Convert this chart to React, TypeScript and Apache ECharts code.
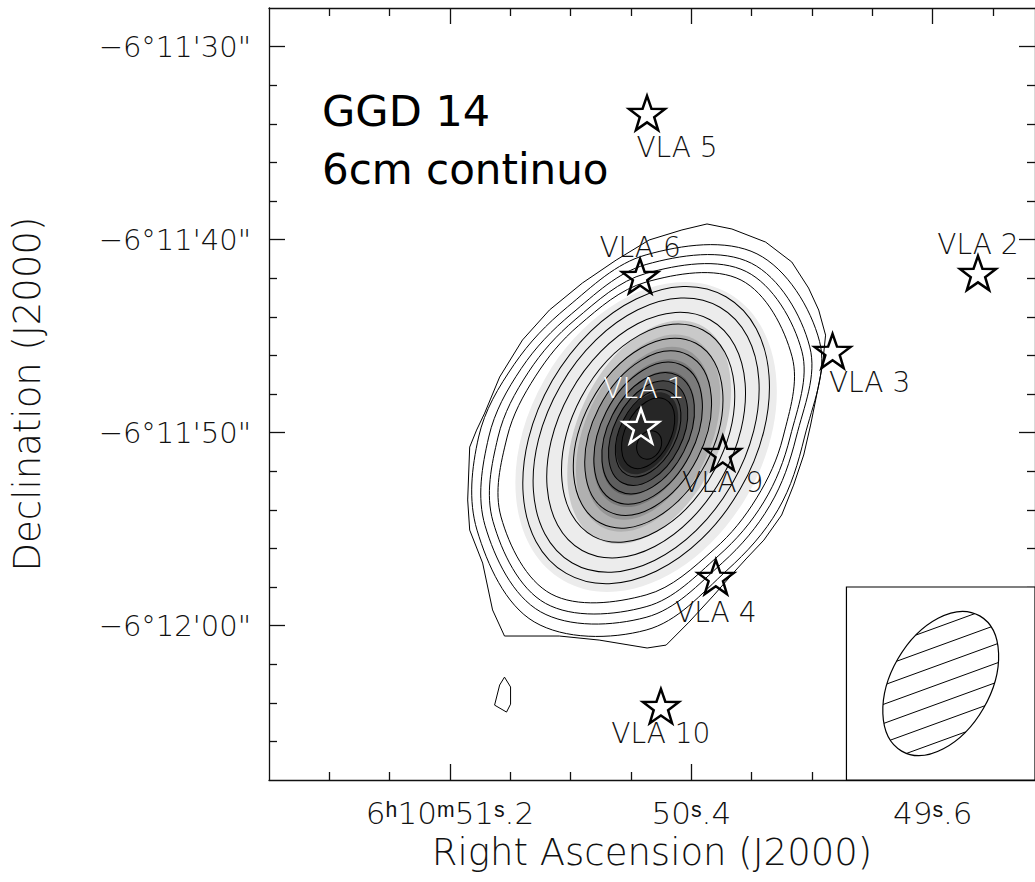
import React, { useEffect, useRef } from "react";
import * as echarts from "echarts";

// ---- Map frame: RA in seconds of 6h10m, Dec in arcsec relative to -6°11'00" ----
const RA_MIN = 49.261;
const RA_MAX = 51.8;
const DEC_MIN = -68;
const DEC_MAX = -28;

const RA_MAJOR_TICKS = [51.2, 50.4, 49.6];
const RA_MINOR_TICKS = [51.6, 51.4, 51.0, 50.8, 50.6, 50.2, 50.0, 49.8, 49.4];
const DEC_MAJOR_TICKS = [-60, -50, -40, -30];
const DEC_MINOR_TICKS = [-66, -64, -62, -58, -56, -54, -52, -48, -46, -44, -42, -38, -36, -34, -32];

// ---- Catalogued VLA sources ----
const SOURCE_NAMES = ["VLA 1", "VLA 2", "VLA 3", "VLA 4", "VLA 5", "VLA 6", "VLA 9", "VLA 10"];
const SOURCE_RA = [50.567, 49.45, 49.932, 50.319, 50.547, 50.57, 50.296, 50.501];
const SOURCE_DEC = [-49.66, -41.73, -45.77, -57.48, -33.44, -41.89, -51.06, -64.17];

// ---- 6 cm continuum emission (offsets in arcsec from the emission centre) ----
const PEAK_RA = 50.55;
const PEAK_DEC = -50.23;
const COS_DEC = Math.cos(((6 + 11 / 60 + 50 / 3600) * Math.PI) / 180);

// lowest contour level, traced outline [dEast, dNorth]
const LOWEST_LEVEL = [
  [-3.01, 11.04], [-4.24, 10.78], [-5.91, 10.1], [-7.2, 9.07], [-8.03, 7.72], [-8.53, 6.58],
  [-8.87, 5.28], [-8.72, 3.73], [-8.43, 2.18], [-8.13, 0.62], [-7.79, -0.93], [-7.29, -2.49],
  [-6.7, -4.04], [-5.82, -5.34], [-4.98, -6.27], [-4.44, -6.89], [-3.35, -8.19], [-2.12, -9.59],
  [-0.99, -10.78], [-0.05, -10.93], [2.32, -10.52], [4.29, -10.31], [7.0, -10.31], [7.59, -8.96],
  [8.08, -6.53], [8.72, -4.82], [8.82, -3.26], [8.72, -0.52], [8.38, 0.36], [7.98, 1.24],
  [7.24, 3.11], [6.11, 5.03], [4.78, 6.58], [3.15, 7.98], [1.48, 9.17], [-0.15, 10.21], [-1.77, 10.73],
];
// isolated spot at the lowest level, south-east of the main emission
const LOWEST_LEVEL_SPOT = [
  [7.0, -12.44], [6.7, -12.95], [6.7, -13.84], [6.9, -14.25], [7.49, -13.89], [7.24, -12.85],
];

// next four levels: radius (arcsec) every 30°, counter-clockwise from due west
const RING_ANGLES = [0, 30, 60, 90, 120, 150, 180, 210, 240, 270, 300, 330];
const OUTER_RINGS = [
  [7.83, 9.9, 10.96, 9.44, 7.78, 7.53, 8.28, 9.65, 11.06, 10.0, 7.98, 7.53],
  [7.42, 9.34, 10.4, 8.94, 7.37, 7.12, 7.78, 9.19, 10.45, 9.34, 7.53, 7.07],
  [7.12, 8.89, 9.9, 8.48, 7.02, 6.72, 7.32, 8.74, 9.95, 8.79, 7.12, 6.72],
  [6.77, 8.33, 9.39, 8.03, 6.67, 6.31, 6.87, 8.28, 9.39, 8.18, 6.72, 6.31],
];

// higher levels, close to elliptical: [dEast, dNorth, semi-major, semi-minor, PA(deg E of N)]
const INNER_RINGS = [
  [0, 0.1, 8.08, 5.49, -30],
  [0, 0.1, 7.47, 5.0, -30],
  [0, 0.1, 6.67, 4.4, -29],
  [-0.1, 0.2, 5.91, 3.84, -28],
  [-0.1, 0.2, 5.15, 3.3, -28],
  [-0.1, 0.2, 4.44, 2.8, -27],
  [-0.1, 0.2, 3.84, 2.38, -27],
  [-0.1, 0.2, 3.28, 2.03, -27],
  [-0.1, 0.2, 2.83, 1.73, -27],
  [-0.1, 0.2, 2.37, 1.42, -27],
  [-0.1, 0.2, 1.92, 1.15, -27],
  [-0.15, -0.41, 0.75, 0.6, -27],
];

// grey-scale image steps: [dEast, dNorth, semi-major, semi-minor, PA]
const GREY_STEPS = [
  [0, 0, 8.38, 5.91, -30],
  [-0.15, 0.25, 6.01, 3.61, -25],
  [-0.1, 0.2, 5.3, 3.18, -25],
  [-0.1, 0.2, 4.65, 2.78, -25],
  [-0.1, 0.2, 3.99, 2.4, -26],
  [-0.1, 0.2, 3.38, 2.02, -27],
  [-0.1, 0.2, 2.83, 1.72, -27],
  [-0.05, 0.2, 2.22, 1.36, -27],
];
const GREY_SHADES = ["#ececec", "#c9c9c9", "#b0b0b0", "#969696", "#7b7b7b", "#5e5e5e", "#444444", "#262626"];

// ---- Synthesised beam (FWHM, arcsec), drawn in a corner box ----
const BEAM_MAJOR = 7.9;
const BEAM_MINOR = 5.0;
const BEAM_PA = -30;
const BEAM_BOX_RA = 0.625; // s
const BEAM_BOX_DEC = 10; // arcsec

const FONT = '"DejaVu Sans", "Liberation Sans", sans-serif';
const INK = "#000";
const TEXT = "#111";
const FRAME = { color: "#111", width: 1.3 };

const LABEL_OFFSET: Record<string, number[]> = {
  "VLA 1": [3, -38],
  "VLA 2": [0, -28],
  "VLA 3": [37, 32],
  "VLA 4": [0, 36],
  "VLA 5": [30, 35],
  "VLA 6": [0, -29],
  "VLA 9": [0, 29],
  "VLA 10": [0, 27],
};

const STAR =
  "path://M0,-10L2.35,-3.24L9.51,-3.09L3.8,1.24L5.88,8.09L0,4L-5.88,8.09L-3.8,1.24L-9.51,-3.09L-2.35,-3.24Z";

const toSky = (dE: number, dN: number) => [PEAK_RA + dE / (15 * COS_DEC), PEAK_DEC + dN];

const pxPerArcsec = (api: any) => {
  const sx = Math.abs(api.size([1 / (15 * COS_DEC), 0])[0]);
  const sy = Math.abs(api.size([0, 1])[1]);
  return (sx + sy) / 2;
};

const raLabel = (v: number) => {
  const r = Math.round(v * 10) / 10;
  const whole = Math.floor(r + 1e-9);
  const frac = Math.round((r - whole) * 10);
  const prefix = Math.abs(r - RA_MAJOR_TICKS[0]) < 1e-6 ? "6ʰ10ᵐ" : "";
  return `${prefix}${whole}ˢ.${frac}`;
};

const decLabel = (v: number) => {
  const sec = Math.round(-v);
  const mm = 11 + Math.floor(sec / 60);
  const ss = String(sec % 60).padStart(2, "0");
  return `\u22126°${mm}'${ss}"`;
};

const tickAxis = (kind: "x" | "y", position: string, ticks: number[], length: number, line: boolean) => ({
  type: "value",
  gridIndex: 0,
  position,
  min: kind === "x" ? RA_MIN : DEC_MIN,
  max: kind === "x" ? RA_MAX : DEC_MAX,
  inverse: kind === "x",
  axisLine: { show: line, onZero: false, lineStyle: FRAME },
  axisTick: { show: true, inside: true, length, customValues: ticks, lineStyle: FRAME },
  axisLabel: { show: false },
  splitLine: { show: false },
});

function hatchLines(cx: number, cy: number, A: number, B: number, theta: number, phi: number, spacing: number) {
  const e1 = [Math.cos(theta), -Math.sin(theta)];
  const e2 = [Math.sin(theta), Math.cos(theta)];
  const u = [Math.cos(phi), -Math.sin(phi)];
  const n = [Math.sin(phi), Math.cos(phi)];
  const dot = (p: number[], q: number[]) => p[0] * q[0] + p[1] * q[1];
  const ue1 = dot(u, e1), ue2 = dot(u, e2), ne1 = dot(n, e1), ne2 = dot(n, e2);
  const out: any[] = [];
  for (let k = -12; k <= 12; k++) {
    const t = k * spacing;
    const qa = (ue1 / A) ** 2 + (ue2 / B) ** 2;
    const qb = 2 * t * ((ne1 * ue1) / (A * A) + (ne2 * ue2) / (B * B));
    const qc = t * t * ((ne1 / A) ** 2 + (ne2 / B) ** 2) - 1;
    const disc = qb * qb - 4 * qa * qc;
    if (disc <= 0) continue;
    const s1 = (-qb - Math.sqrt(disc)) / (2 * qa);
    const s2 = (-qb + Math.sqrt(disc)) / (2 * qa);
    out.push({
      type: "line",
      shape: {
        x1: cx + t * n[0] + s1 * u[0],
        y1: cy + t * n[1] + s1 * u[1],
        x2: cx + t * n[0] + s2 * u[0],
        y2: cy + t * n[1] + s2 * u[1],
      },
      style: { stroke: INK, lineWidth: 1 },
    });
  }
  return out;
}

// ellipse item from a row [ra, dec, semi-major, semi-minor, PA, ...]
const ellipseItem = (api: any, fill: string | null, stroke: string | null) => {
  const c = api.coord([api.value(0), api.value(1)]);
  const s = pxPerArcsec(api);
  return {
    type: "ellipse",
    x: c[0],
    y: c[1],
    rotation: (api.value(4) * Math.PI) / 180,
    shape: { cx: 0, cy: 0, rx: api.value(3) * s, ry: api.value(2) * s },
    style: { fill: fill ?? "none", stroke: stroke ?? "none", lineWidth: 1 },
  };
};

const ellipseRows = (rows: number[][]) =>
  rows.map((r, i) => {
    const c = toSky(r[0], r[1]);
    return [c[0], c[1], r[2], r[3], r[4], i];
  });

function buildOption(): any {
  const bottomAxis: any = {
    ...tickAxis("x", "bottom", RA_MAJOR_TICKS, 16, true),
    axisLabel: {
      show: true,
      customValues: RA_MAJOR_TICKS,
      formatter: raLabel,
      margin: 17,
      fontFamily: FONT,
      fontWeight: 200,
      fontSize: 31,
      color: TEXT,
    },
    name: "Right Ascension (J2000)",
    nameLocation: "middle",
    nameGap: 54,
    nameTextStyle: { fontFamily: FONT, fontWeight: 200, fontSize: 37, color: TEXT, verticalAlign: "top" },
  };
  const leftAxis: any = {
    ...tickAxis("y", "left", DEC_MAJOR_TICKS, 16, true),
    axisLabel: {
      show: true,
      customValues: DEC_MAJOR_TICKS,
      formatter: decLabel,
      margin: 18,
      fontFamily: FONT,
      fontWeight: 200,
      fontSize: 29,
      color: TEXT,
    },
    name: "Declination (J2000)",
    nameLocation: "middle",
    nameGap: 223,
    nameRotate: 90,
    nameTextStyle: { fontFamily: FONT, fontWeight: 200, fontSize: 37, color: TEXT },
  };

  const outlines = [LOWEST_LEVEL, LOWEST_LEVEL_SPOT];

  return {
    animation: false,
    backgroundColor: "#fff",
    grid: { left: 269, top: 8, width: 768, height: 772, containLabel: false },
    xAxis: [
      bottomAxis,
      tickAxis("x", "bottom", RA_MINOR_TICKS, 8, false),
      tickAxis("x", "top", RA_MAJOR_TICKS, 16, true),
      tickAxis("x", "top", RA_MINOR_TICKS, 8, false),
    ],
    yAxis: [
      leftAxis,
      tickAxis("y", "left", DEC_MINOR_TICKS, 8, false),
      tickAxis("y", "right", DEC_MAJOR_TICKS, 16, true),
      tickAxis("y", "right", DEC_MINOR_TICKS, 8, false),
    ],
    graphic: [
      {
        type: "text",
        left: 322,
        top: 89,
        style: { text: "GGD 14", fontFamily: FONT, fontSize: 43, fill: INK },
      },
      {
        type: "text",
        left: 322,
        top: 148,
        style: { text: "6cm continuo", fontFamily: FONT, fontSize: 42, fill: INK },
      },
    ],
    series: [
      {
        // grey-scale image
        type: "custom",
        coordinateSystem: "cartesian2d",
        xAxisIndex: 0,
        yAxisIndex: 0,
        silent: true,
        z: 1,
        data: ellipseRows(GREY_STEPS),
        renderItem: (_p: any, api: any) => ellipseItem(api, GREY_SHADES[api.value(5)], null),
      },
      {
        // lowest level and the isolated spot
        type: "custom",
        coordinateSystem: "cartesian2d",
        xAxisIndex: 0,
        yAxisIndex: 0,
        silent: true,
        z: 2,
        data: outlines.map((_o, i) => [PEAK_RA, PEAK_DEC, i]),
        renderItem: (_p: any, api: any) => {
          const pts = outlines[api.value(2)].map(([dE, dN]) => api.coord(toSky(dE, dN)));
          return { type: "polygon", shape: { points: pts }, style: { fill: "none", stroke: INK, lineWidth: 1 } };
        },
      },
      {
        // following four levels
        type: "custom",
        coordinateSystem: "cartesian2d",
        xAxisIndex: 0,
        yAxisIndex: 0,
        silent: true,
        z: 2,
        data: OUTER_RINGS.map((_r, i) => [PEAK_RA, PEAK_DEC, i]),
        renderItem: (_p: any, api: any) => {
          const radii = OUTER_RINGS[api.value(2)];
          const pts = radii.map((r, k) => {
            const a = (RING_ANGLES[k] * Math.PI) / 180;
            return api.coord(toSky(-r * Math.cos(a), r * Math.sin(a)));
          });
          return {
            type: "polygon",
            shape: { points: pts, smooth: 0.35 },
            style: { fill: "none", stroke: INK, lineWidth: 1 },
          };
        },
      },
      {
        // higher levels
        type: "custom",
        coordinateSystem: "cartesian2d",
        xAxisIndex: 0,
        yAxisIndex: 0,
        silent: true,
        z: 2,
        data: ellipseRows(INNER_RINGS),
        renderItem: (_p: any, api: any) => ellipseItem(api, null, INK),
      },
      {
        // synthesised beam in the lower-right corner box
        type: "custom",
        coordinateSystem: "cartesian2d",
        xAxisIndex: 0,
        yAxisIndex: 0,
        silent: true,
        z: 3,
        data: [[RA_MIN, DEC_MIN]],
        renderItem: (_params: any, api: any) => {
          const corner = api.coord([RA_MIN, DEC_MIN]);
          const opposite = api.coord([RA_MIN + BEAM_BOX_RA, DEC_MIN + BEAM_BOX_DEC]);
          const left = opposite[0];
          const top = opposite[1];
          const width = corner[0] - left;
          const height = corner[1] - top;
          const cx = left + width / 2;
          const cy = top + height / 2;
          const s = pxPerArcsec(api);
          const A = (BEAM_MAJOR / 2) * s;
          const B = (BEAM_MINOR / 2) * s;
          const theta = ((90 + BEAM_PA) * Math.PI) / 180;
          return {
            type: "group",
            children: [
              {
                type: "rect",
                shape: { x: left, y: top, width, height },
                style: { fill: "#fff", stroke: INK, lineWidth: 1.2 },
              },
              ...hatchLines(cx, cy, A, B, theta, (20 * Math.PI) / 180, 18),
              {
                type: "ellipse",
                x: cx,
                y: cy,
                rotation: (BEAM_PA * Math.PI) / 180,
                shape: { cx: 0, cy: 0, rx: B, ry: A },
                style: { fill: "none", stroke: INK, lineWidth: 1.2 },
              },
            ],
          };
        },
      },
      {
        type: "scatter",
        xAxisIndex: 0,
        yAxisIndex: 0,
        silent: true,
        z: 5,
        symbol: STAR,
        symbolSize: 36,
        symbolKeepAspect: true,
        itemStyle: { color: "rgba(0,0,0,0)", borderColor: INK, borderWidth: 2.5, opacity: 1 },
        label: {
          show: true,
          position: "inside",
          formatter: "{b}",
          fontFamily: FONT,
          fontWeight: 200,
          fontSize: 28,
          color: TEXT,
          textBorderWidth: 0,
        },
        data: SOURCE_NAMES.map((name, i) => {
          const light = name === "VLA 1";
          return {
            name,
            value: [SOURCE_RA[i], SOURCE_DEC[i]],
            itemStyle: light ? { borderColor: "#fff", opacity: 1 } : undefined,
            label: { offset: LABEL_OFFSET[name], color: light ? "#fff" : TEXT },
          };
        }),
      },
    ],
  };
}

export default function App() {
  const ref = useRef<HTMLDivElement>(null);
  useEffect(() => {
    if (!ref.current) return;
    const chart = echarts.init(ref.current, null, { renderer: "svg" });
    chart.setOption(buildOption());
    return () => chart.dispose();
  }, []);
  return (
    <div
      ref={ref}
      style={{ position: "fixed", left: 0, top: 0, width: 1035, height: 882, background: "#fff" }}
    />
  );
}
